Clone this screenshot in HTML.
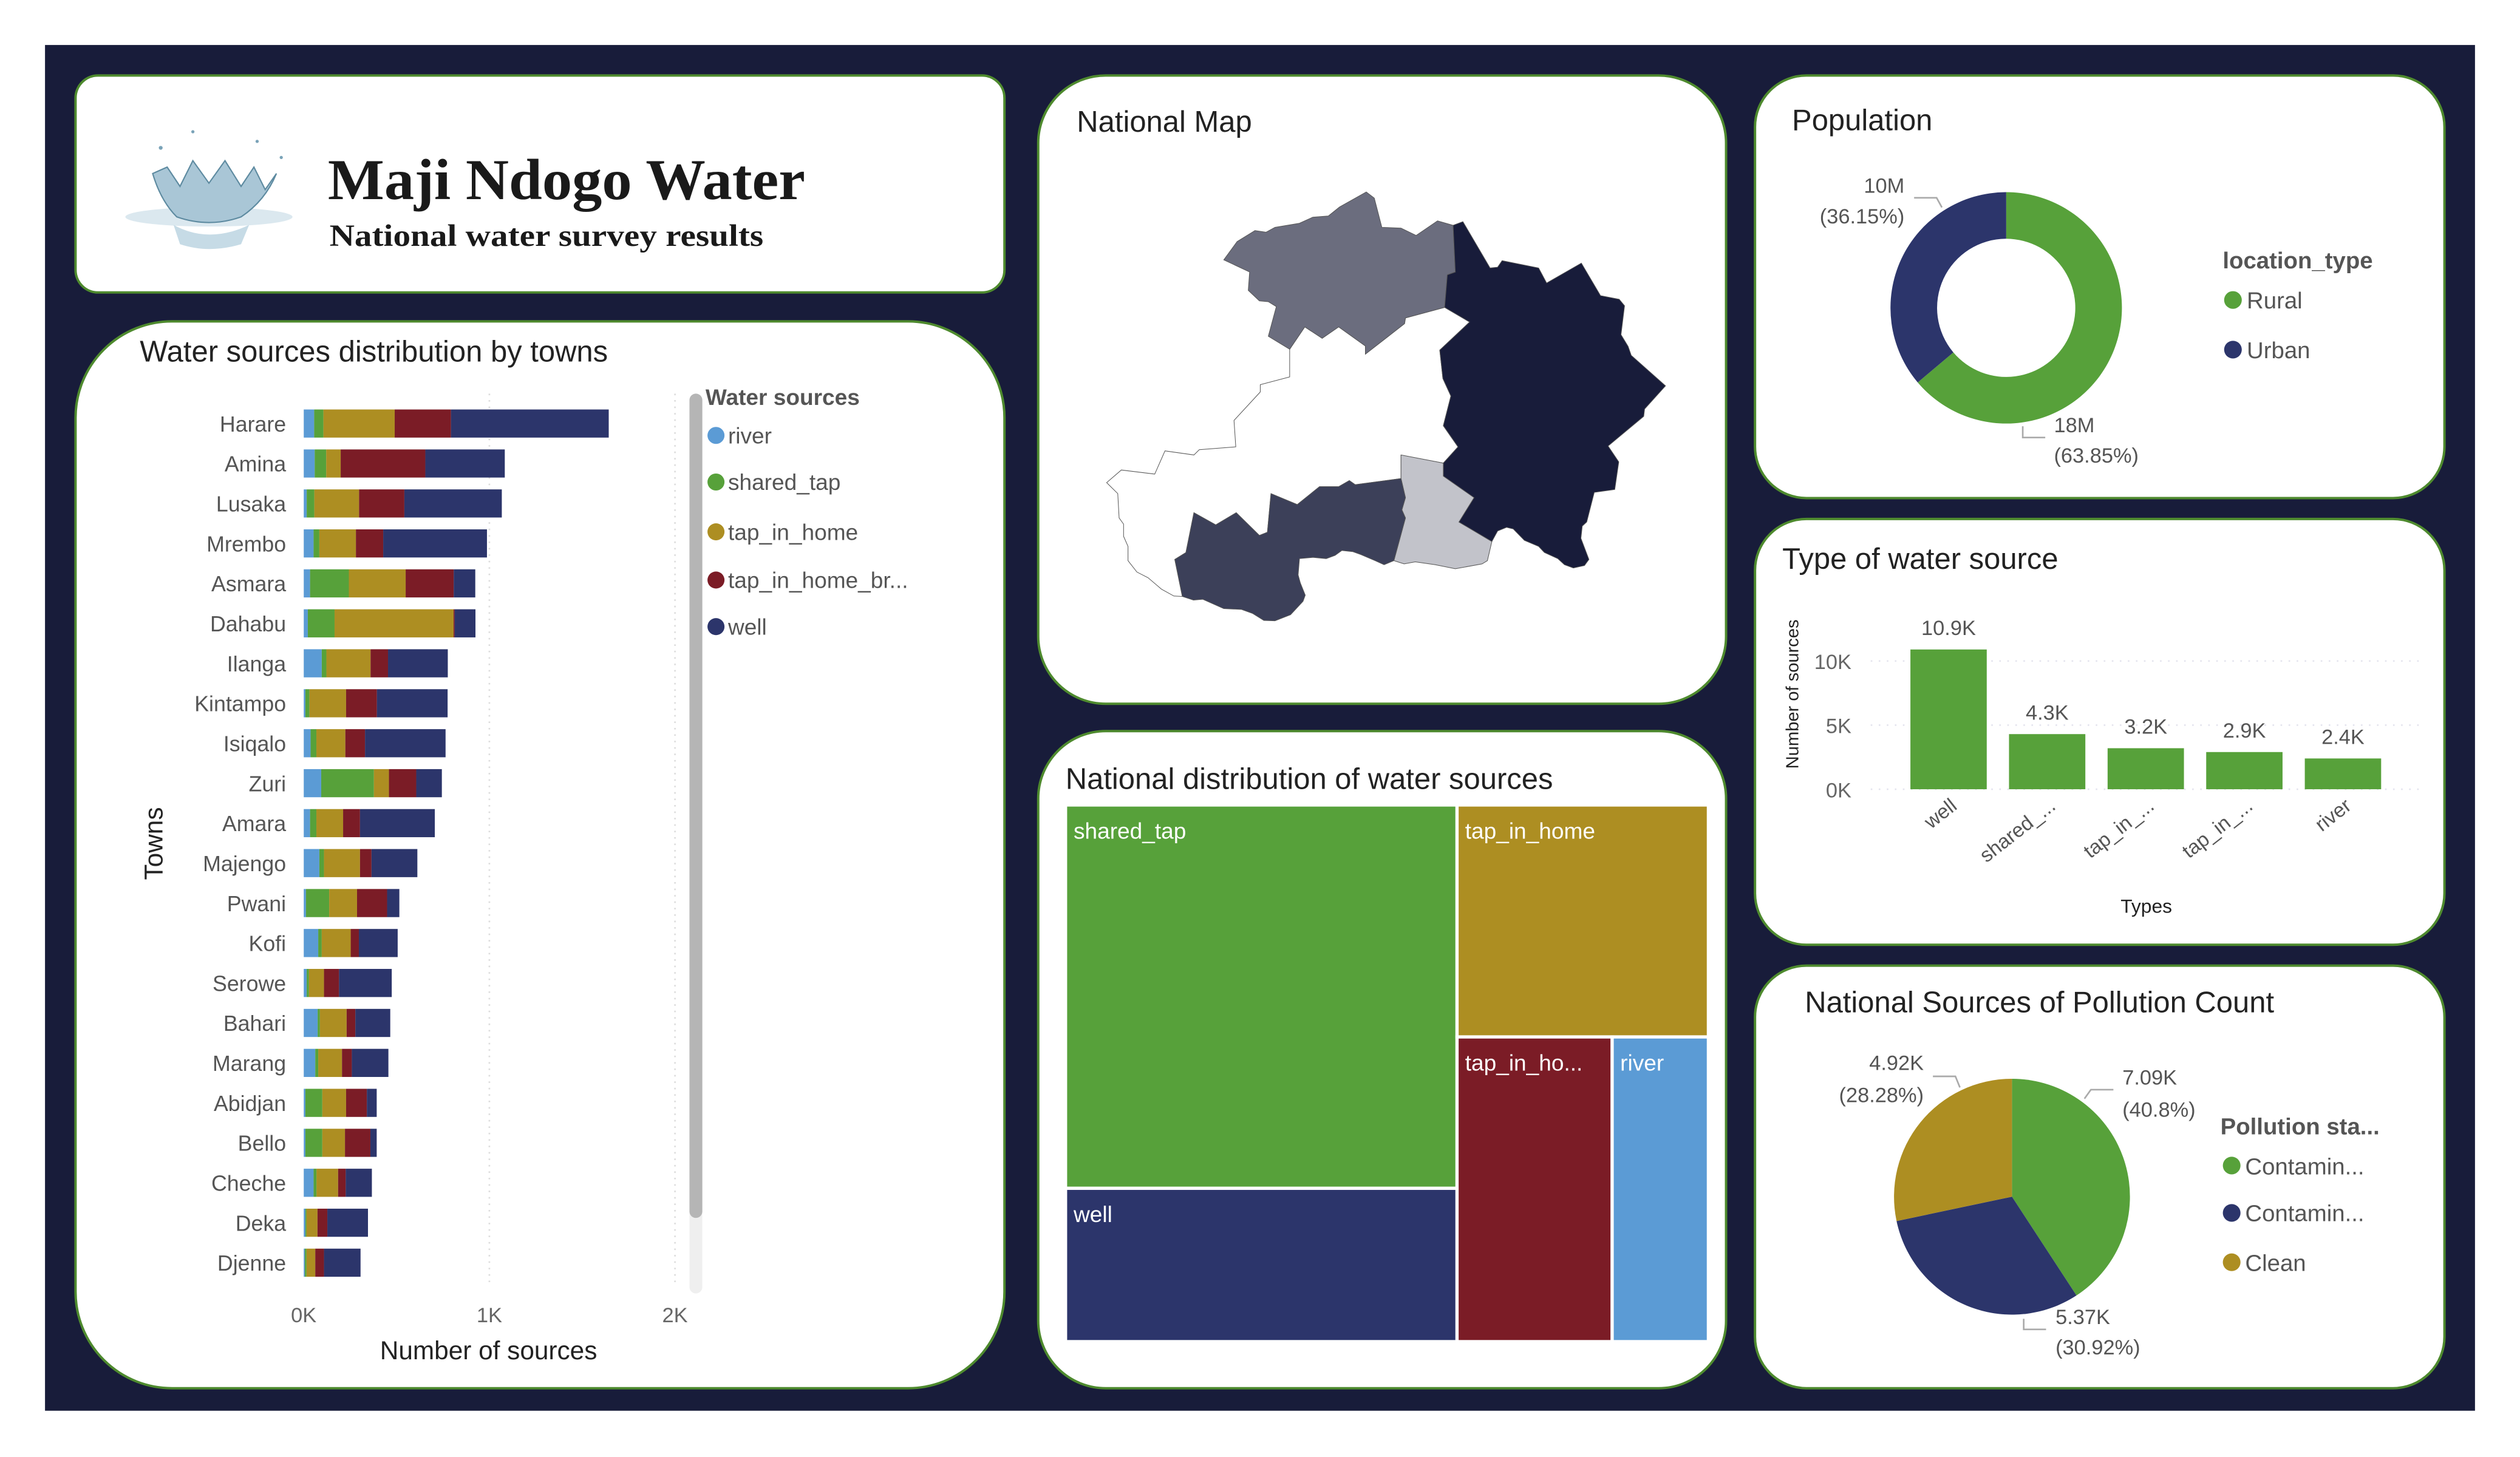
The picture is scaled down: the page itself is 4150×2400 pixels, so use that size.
<!DOCTYPE html>
<html><head><meta charset="utf-8"><style>
html,body{margin:0;padding:0;background:#fff;}
svg{display:block;font-family:"Liberation Sans",sans-serif;}
</style></head><body>
<svg id="root" width="4150" height="2400" viewBox="0 0 1568 906.8" xmlns="http://www.w3.org/2000/svg">
<rect x="0" y="0" width="1568" height="906.8" fill="#ffffff"/>
<rect x="28" y="28" width="1512" height="850" fill="#181c3a"/>

<!-- panels -->
<rect x="47" y="47" width="578" height="135" rx="14" fill="#fff" stroke="#4e8a2e" stroke-width="1.5"/>
<rect x="47" y="200" width="578" height="664" rx="60" fill="#fff" stroke="#4e8a2e" stroke-width="1.5"/>
<rect x="646" y="47" width="428" height="391" rx="42" fill="#fff" stroke="#4e8a2e" stroke-width="1.5"/>
<rect x="646" y="455" width="428" height="409" rx="42" fill="#fff" stroke="#4e8a2e" stroke-width="1.5"/>
<rect x="1092" y="47" width="429" height="263" rx="32" fill="#fff" stroke="#4e8a2e" stroke-width="1.5"/>
<rect x="1092" y="323" width="429" height="265" rx="32" fill="#fff" stroke="#4e8a2e" stroke-width="1.5"/>
<rect x="1092" y="601" width="429" height="263" rx="32" fill="#fff" stroke="#4e8a2e" stroke-width="1.5"/>

<!-- title panel -->
<g>
  <ellipse cx="130" cy="135" rx="52" ry="6" fill="#dbe8ef"/>
  <path d="M95 108 Q100 125 110 135 Q130 142 150 135 Q165 125 172 108 L165 118 L158 104 L150 116 L140 100 L130 114 L120 100 L112 116 L104 104 Z" fill="#a9c6d6" stroke="#5d8aa0" stroke-width="0.8"/>
  <path d="M108 140 Q130 152 155 140 L150 152 Q130 158 112 152 Z" fill="#c6dbe6"/>
  <circle cx="100" cy="92" r="1.2" fill="#7aa3b8"/><circle cx="160" cy="88" r="1" fill="#7aa3b8"/><circle cx="120" cy="82" r="1" fill="#7aa3b8"/><circle cx="175" cy="98" r="1" fill="#7aa3b8"/>
</g>
<text x="204" y="124" font-family="Liberation Serif,serif" font-weight="bold" font-size="36" textLength="297" lengthAdjust="spacingAndGlyphs" fill="#1a1a1a">Maji Ndogo Water</text>
<text x="205" y="153" font-family="Liberation Serif,serif" font-weight="bold" font-size="19" textLength="270" lengthAdjust="spacingAndGlyphs" fill="#1a1a1a">National water survey results</text>

<!-- towns chart -->
<text x="87" y="225" font-size="18.5" fill="#222">Water sources distribution by towns</text>
<g id="towns"></g>

<!-- map -->
<text x="670" y="82" font-size="18.5" fill="#222">National Map</text>
<g transform="translate(642.3,45.34) scale(0.2771,0.2530)">
<polygon fill="#ffffff" stroke="#555" stroke-width="1" vector-effect="non-scaling-stroke" points="578,680 578,748 512,767 512,785 453,855 457,920 375,927 363,940 298,930 275,987 200,977 167,1008 192,1035 195,1095 205,1110 205,1140 215,1165 215,1200 235,1228 260,1242 290,1270 318,1287 337,1288 320,1197 345,1180 363,1082 412,1112 458,1082 510,1138 528,1130 536,1035 595,1062 645,1018 688,1018 712,1003 725,1013 828,998 828,940 923,960 956,920 923,868 940,795 922,752 915,682 982,613 926,577 838,603 836,617 748,692 748,672 688,625 651,653 612,625"/>
<polygon fill="#6b6d7e" stroke="#555" stroke-width="1" vector-effect="non-scaling-stroke" points="430,460 460,415 500,388 525,392 545,380 600,370 630,355 665,352 690,330 750,293 768,308 785,380 828,382 862,400 910,364 945,375 950,490 932,497 926,577 838,603 836,617 748,692 748,672 688,625 651,653 612,625 578,680 530,648 548,575 530,563 510,561 485,535 488,490"/>
<polygon fill="#181c3a" stroke="#555" stroke-width="1" vector-effect="non-scaling-stroke" points="945,375 967,366 1028,480 1045,478 1055,462 1137,480 1155,517 1233,468 1276,548 1318,557 1330,573 1322,644 1338,673 1345,695 1422,770 1375,827 1373,845 1293,918 1317,957 1308,1025 1262,1032 1245,1105 1235,1115 1232,1145 1250,1197 1240,1212 1215,1218 1195,1210 1180,1195 1150,1180 1137,1165 1105,1150 1080,1122 1065,1118 1045,1127 1032,1153 958,1105 992,1045 923,992 923,960 956,920 923,868 940,795 922,752 915,682 982,613 926,577 932,497 950,490"/>
<polygon fill="#c2c3ca" stroke="#555" stroke-width="1" vector-effect="non-scaling-stroke" points="828,940 923,960 923,992 992,1045 958,1105 1032,1153 1022,1200 1010,1208 950,1220 905,1210 860,1203 835,1208 812,1200 838,1095 830,1075 838,1045 828,998"/>
<polygon fill="#3c4059" stroke="#555" stroke-width="1" vector-effect="non-scaling-stroke" points="320,1197 345,1180 363,1082 412,1112 458,1082 510,1138 528,1130 536,1035 595,1062 645,1018 688,1018 712,1003 725,1013 828,998 838,1045 830,1075 838,1095 812,1200 790,1210 770,1200 738,1185 720,1178 695,1175 680,1187 660,1195 630,1192 600,1195 597,1235 602,1255 613,1285 608,1300 580,1333 545,1348 520,1347 495,1330 470,1320 430,1318 383,1295 362,1297 337,1288"/>
</g>

<!-- treemap -->
<text x="663" y="491" font-size="18.5" fill="#222">National distribution of water sources</text>
<g id="treemap"></g>

<!-- population -->
<text x="1115" y="81" font-size="18.5" fill="#222">Population</text>
<g id="donut"></g>
<text x="1383" y="167" font-size="14.5" font-weight="bold" fill="#555">location_type</text>
<circle cx="1389.4" cy="186.7" r="5.5" fill="#57a13a"/>
<text x="1398" y="192" font-size="14.5" fill="#555">Rural</text>
<circle cx="1389.4" cy="217.6" r="5.5" fill="#2c356b"/>
<text x="1398" y="223" font-size="14.5" fill="#555">Urban</text>
<polyline points="1191,123.1 1205,123.1 1208.3,129.1" fill="none" stroke="#aaa" stroke-width="1"/>
<text x="1185" y="120" font-size="13" fill="#555" text-anchor="end">10M</text>
<text x="1185" y="139" font-size="13" fill="#555" text-anchor="end">(36.15%)</text>
<polyline points="1258.6,265.3 1258.6,272.3 1272.6,272.3" fill="none" stroke="#aaa" stroke-width="1"/>
<text x="1278" y="269" font-size="13" fill="#555">18M</text>
<text x="1278" y="288" font-size="13" fill="#555">(63.85%)</text>

<!-- type chart -->
<text x="1109" y="354" font-size="18.5" fill="#222">Type of water source</text>
<g id="types"></g>

<!-- pollution -->
<text x="1123" y="630" font-size="18.5" fill="#222">National Sources of Pollution Count</text>
<g id="pie"></g>
<text x="1381.6" y="706" font-size="14.5" font-weight="bold" fill="#555">Pollution sta...</text>
<circle cx="1388.6" cy="725.4" r="5.5" fill="#57a13a"/>
<text x="1397" y="731" font-size="14.5" fill="#555">Contamin...</text>
<circle cx="1388.6" cy="754.9" r="5.5" fill="#2c356b"/>
<text x="1397" y="760" font-size="14.5" fill="#555">Contamin...</text>
<circle cx="1388.6" cy="785.6" r="5.5" fill="#ad8e22"/>
<text x="1397" y="791" font-size="14.5" fill="#555">Clean</text>
<polyline points="1297,683.8 1301,678.2 1315,678.2" fill="none" stroke="#aaa" stroke-width="1"/>
<text x="1320.6" y="675" font-size="13" fill="#555">7.09K</text>
<text x="1320.6" y="695" font-size="13" fill="#555">(40.8%)</text>
<polyline points="1202.7,669.9 1216.7,669.9 1219.5,676.8" fill="none" stroke="#aaa" stroke-width="1"/>
<text x="1197" y="666" font-size="13" fill="#555" text-anchor="end">4.92K</text>
<text x="1197" y="686" font-size="13" fill="#555" text-anchor="end">(28.28%)</text>
<polyline points="1259.2,820.8 1259.2,827.4 1273.1,827.4" fill="none" stroke="#aaa" stroke-width="1"/>
<text x="1279" y="824" font-size="13" fill="#555">5.37K</text>
<text x="1279" y="843" font-size="13" fill="#555">(30.92%)</text>
</svg>

<script>
// ---- Towns stacked bar data ----
const towns = ["Harare","Amina","Lusaka","Mrembo","Asmara","Dahabu","Ilanga","Kintampo","Isiqalo","Zuri","Amara","Majengo","Pwani","Kofi","Serowe","Bahari","Marang","Abidjan","Bello","Cheche","Deka","Djenne"];
const riverVals = [56,59,16,53,34,22,97,9,37,94,34,84,12,78,16,75,62,9,9,53,9,6];
const sharedVals = [50,62,41,31,209,144,25,22,31,284,34,25,125,19,12,12,16,91,91,16,6,9];
const tapHomeVals = [384,78,241,197,306,641,238,197,156,81,144,194,150,156,81,144,128,128,122,116,59,47];
const tapBrokenVals = [303,456,244,147,259,6,94,166,106,147,91,62,162,44,81,47,53,112,137,41,53,47];
const wellVals = [850,428,525,559,116,112,322,381,434,138,403,247,66,209,284,188,197,53,34,141,219,197];
const xTicks = [0,1000,2000];
const xTickLabels = ["0K","1K","2K"];
const seriesNames = ["river","shared_tap","tap_in_home","tap_in_home_br...","well"];

// ---- Types bar data ----
const typeCats = ["well","shared_...","tap_in_...","tap_in_...","river"];
const typeVals = [10900,4300,3200,2900,2400];
const typeLabels = ["10.9K","4.3K","3.2K","2.9K","2.4K"];
const yTicks = [0,5000,10000];
const yTickLabels = ["0K","5K","10K"];

// ---- Treemap data ----
const treeNames = ["shared_tap","well","tap_in_home","tap_in_ho...","river"];
const treeVals = [43.5,17.4,16.9,13.7,8.5];

// ---- Donut / pie data ----
const popCats = ["Rural","Urban"];
const popVals = [63.85,36.15];
const pollCats = ["Contaminated_biological","Contaminated_chemical","Clean"];
const pollVals = [7090,5370,4920];

const colors = ["#5b9bd5","#57a13a","#ad8e22","#7b1c26","#2c356b"];
const NS = "http://www.w3.org/2000/svg";
function mk(tag, attrs, parent, txt){
  const e = document.createElementNS(NS, tag);
  for (const k in attrs) e.setAttribute(k, attrs[k]);
  if (txt !== undefined) e.textContent = txt;
  parent.appendChild(e);
  return e;
}

// Towns chart
(function(){
  const g = document.getElementById("towns");
  const x0 = 189, x1 = 420, maxV = 2000;
  const xs = v => x0 + (x1 - x0) * v / maxV;
  const yTop = 263.6, step = 24.87, bh = 17.5;
  const ys = i => yTop + i * step;
  xTicks.forEach((t, i) => {
    if (i > 0) {
      const gl = mk("line", {x1: xs(t), x2: xs(t), y1: 245, y2: 800, stroke: "#ddd", "stroke-width": 1, "stroke-dasharray": "1 3"}, g);
      
      
    }
    const tl = mk("text", {x: xs(t), y: 823, "font-size": 13, fill: "#666", "text-anchor": "middle"}, g, xTickLabels[i]);
    
    
  });
  const series = [riverVals, sharedVals, tapHomeVals, tapBrokenVals, wellVals];
  towns.forEach((t, i) => {
    const lab = mk("text", {x: 178, y: ys(i) + 5, "font-size": 13.5, fill: "#555", "text-anchor": "end"}, g, t);
    
    
    let acc = 0;
    series.forEach((s, k) => {
      const r = mk("rect", {x: xs(acc), y: ys(i) - bh / 2, width: Math.max(0, xs(acc + s[i]) - xs(acc)), height: bh, fill: colors[k]}, g);
      
      
      acc += s[i];
    });
  });
  const ax = mk("text", {x: 304, y: 846, "font-size": 16, fill: "#222", "text-anchor": "middle"}, g, "Number of sources");
  
  
  const ay = mk("text", {x: 0, y: 0, "font-size": 16, fill: "#222", "text-anchor": "middle", transform: "translate(101,525) rotate(-90)"}, g, "Towns");
  
  
  const tr = mk("rect", {x: 429, y: 245, width: 8, height: 560, rx: 4, fill: "#efefef"}, g);
  
  
  const th = mk("rect", {x: 429, y: 245, width: 8, height: 513, rx: 4, fill: "#b5b5b5"}, g);
  
  
  const lt = mk("text", {x: 439, y: 252, "font-size": 14, "font-weight": "bold", fill: "#555"}, g, "Water sources");
  
  
  const ly = [271, 300, 331, 361, 390];
  seriesNames.forEach((n, k) => {
    const c = mk("circle", {cx: 445.5, cy: ly[k], r: 5.3, fill: colors[k]}, g);
    
    
    const t = mk("text", {x: 453, y: ly[k] + 5, "font-size": 14, fill: "#555"}, g, n);
    
    
  });
})();

// Types chart
(function(){
  const g = document.getElementById("types");
  const base = 491.2, perUnit = 79.8 / 10000;
  const ys = v => base - v * perUnit;
  const bx0 = 1188.7, pitch = 61.35, bw = 47.5;
  yTicks.forEach((t, i) => {
    const gl = mk("line", {x1: 1164, x2: 1506, y1: ys(t), y2: ys(t), stroke: "#e4e4ee", "stroke-width": 1, "stroke-dasharray": "1 4"}, g);
    
    
    const tl = mk("text", {x: 1152, y: ys(t) + 5, "font-size": 13, fill: "#666", "text-anchor": "end"}, g, yTickLabels[i]);
    
    
  });
  typeVals.forEach((v, i) => {
    const x = bx0 + i * pitch;
    const r = mk("rect", {x: x, y: ys(v), width: bw, height: base - ys(v), fill: "#57a13a"}, g);
    
    
    const l = mk("text", {x: x + bw / 2, y: ys(v) - 9, "font-size": 13, fill: "#555", "text-anchor": "middle"}, g, typeLabels[i]);
    
    
    const c = mk("text", {x: 0, y: 0, "font-size": 12.5, fill: "#555", "text-anchor": "end", transform: "translate(" + (x + bw / 2 + 6) + ",503) rotate(-38)"}, g, typeCats[i]);
    
    
  });
  const ax = mk("text", {x: 1335.5, y: 568, "font-size": 12, fill: "#222", "text-anchor": "middle"}, g, "Types");
  
  
  const ay = mk("text", {x: 0, y: 0, "font-size": 11, fill: "#222", "text-anchor": "middle", transform: "translate(1119,432) rotate(-90)"}, g, "Number of sources");
  
  
})();

// Treemap
(function(){
  const g = document.getElementById("treemap");
  const X = 663, Y = 501, W = 400, H = 334, gap = 2;
  const tot = treeVals.reduce((a, b) => a + b, 0);
  const leftW = W * (treeVals[0] + treeVals[1]) / tot;
  const sharedH = H * treeVals[0] / (treeVals[0] + treeVals[1]);
  const rightSum = treeVals[2] + treeVals[3] + treeVals[4];
  const tapH = H * treeVals[2] / rightSum;
  const rW = W - leftW;
  const brokenW = rW * treeVals[3] / (treeVals[3] + treeVals[4]);
  const rects = [
    [X, Y, leftW, sharedH, colors[1]],
    [X, Y + sharedH, leftW, H - sharedH, colors[4]],
    [X + leftW, Y, rW, tapH, colors[2]],
    [X + leftW, Y + tapH, brokenW, H - tapH, colors[3]],
    [X + leftW + brokenW, Y + tapH, rW - brokenW, H - tapH, colors[0]]
  ];
  rects.forEach((r, i) => {
    const e = mk("rect", {x: r[0], y: r[1], width: r[2], height: r[3], fill: r[4], stroke: "#fff", "stroke-width": gap}, g);
    
    
    const t = mk("text", {x: r[0] + 5, y: r[1] + 21, "font-size": 14, fill: "#fff"}, g, treeNames[i]);
    
    
  });
})();

function arc(cx, cy, r, ri, a0, a1){
  const p = (a, rr) => [cx + rr * Math.sin(a), cy - rr * Math.cos(a)];
  const large = (a1 - a0) > Math.PI ? 1 : 0;
  const s = p(a0, r), e = p(a1, r);
  if (ri > 0) {
    const si = p(a1, ri), ei = p(a0, ri);
    return "M" + s + "A" + r + "," + r + " 0 " + large + " 1 " + e + "L" + si + "A" + ri + "," + ri + " 0 " + large + " 0 " + ei + "Z";
  }
  return "M" + cx + "," + cy + "L" + s + "A" + r + "," + r + " 0 " + large + " 1 " + e + "Z";
}

// Donut
(function(){
  const g = document.getElementById("donut");
  const tot = popVals.reduce((a, b) => a + b, 0);
  const cols = ["#57a13a", "#2c356b"];
  let a = 0;
  popVals.forEach((v, i) => {
    const a1 = a + 2 * Math.PI * v / tot;
    const p = mk("path", {d: arc(1248.3, 191.6, 72, 43, a, a1), fill: cols[i]}, g);
    
    
    a = a1;
  });
})();

// Pie
(function(){
  const g = document.getElementById("pie");
  const tot = pollVals.reduce((a, b) => a + b, 0);
  const cols = ["#57a13a", "#2c356b", "#ad8e22"];
  let a = 0;
  pollVals.forEach((v, i) => {
    const a1 = a + 2 * Math.PI * v / tot;
    const p = mk("path", {d: arc(1251.9, 744.8, 73.4, 0, a, a1), fill: cols[i]}, g);
    
    
    a = a1;
  });
})();
</script>
</body></html>
